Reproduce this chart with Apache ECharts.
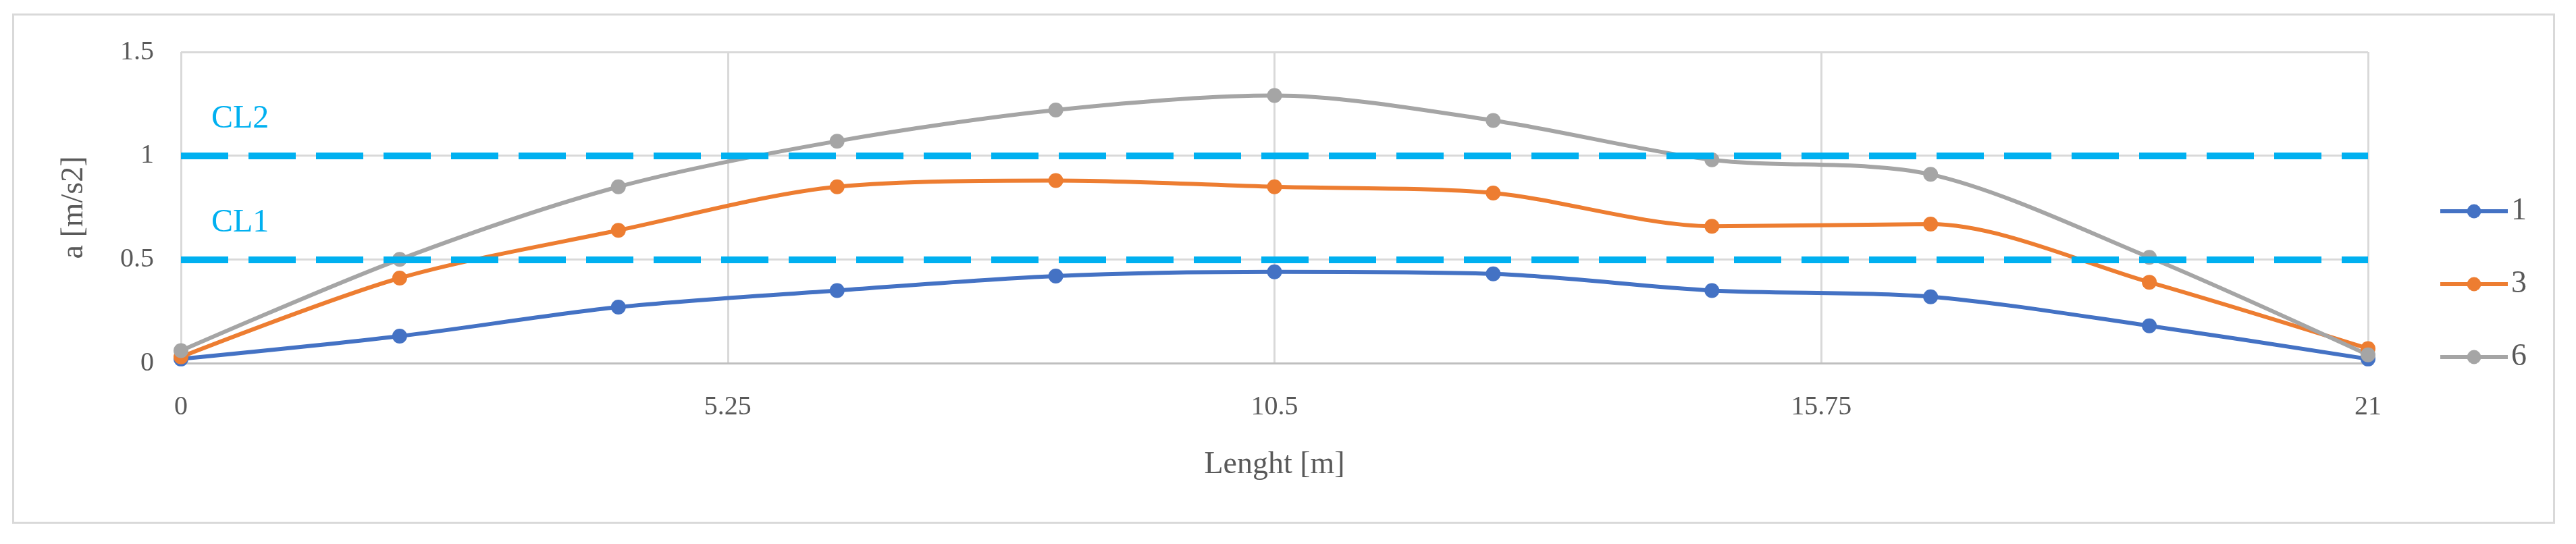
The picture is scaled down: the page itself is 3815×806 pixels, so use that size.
<!DOCTYPE html>
<html lang="en">
<head>
    <meta charset="UTF-8">
    <title>a [m/s2]</title>
    <script src="https://cdn.jsdelivr.net/npm/echarts@6/dist/echarts.min.js"></script>
    <style>
        body { margin: 0; background: #fff; }
        #frame { position: absolute; left: 18px; top: 20px; width: 3766px; height: 756px; border: 3px solid #d9d9d9; box-sizing: border-box; }
    </style>
</head>
<body>
    <div id="frame"></div>
    <div id="main" style="width: 3815px;height:806px;"></div>
    <script type="text/javascript">
        // data
        var xs = [0, 2.1, 4.2, 6.3, 8.4, 10.5, 12.6, 14.7, 16.8, 18.9, 21];
        var s1 = [0.02, 0.13, 0.27, 0.35, 0.42, 0.44, 0.43, 0.35, 0.32, 0.18, 0.02];
        var s3 = [0.03, 0.41, 0.64, 0.85, 0.88, 0.85, 0.82, 0.66, 0.67, 0.39, 0.07];
        var s6 = [0.06, 0.50, 0.85, 1.07, 1.22, 1.29, 1.17, 0.98, 0.91, 0.51, 0.04];
        var seriesNames = ['1', '3', '6'];
        var colors = ['#4472c4', '#ed7d31', '#a5a5a5'];
        var limits = [{ name: 'CL1', value: 0.5 }, { name: 'CL2', value: 1 }];

        var font = 'Liberation Serif';
        var myChart = echarts.init(document.getElementById('main'));

        function pairs(ys) {
            return xs.map(function (x, i) { return [x, ys[i]]; });
        }

        var series = [s1, s3, s6].map(function (ys, i) {
            return {
                name: seriesNames[i],
                type: 'line',
                smooth: 0.3,
                data: pairs(ys),
                symbol: 'circle',
                symbolSize: 22,
                z: 3,
                lineStyle: { width: 6, color: colors[i] },
                itemStyle: { color: colors[i] }
            };
        });

        // dashed limit lines
        series.push({
            name: 'limits',
            type: 'line',
            data: [],
            z: 2,
            markLine: {
                silent: true,
                symbol: 'none',
                lineStyle: { color: '#00b0f0', type: [70, 30], width: 10 },
                label: {
                    position: 'insideStartTop',
                    formatter: '{b}',
                    color: '#00b0f0',
                    fontFamily: font,
                    fontSize: 48,
                    distance: [45, 30]
                },
                data: limits.map(function (l) { return { name: l.name, yAxis: l.value }; })
            }
        });

        myChart.setOption({
            animation: false,
            textStyle: { fontFamily: font },
            grid: { left: 268, right: 308, top: 77, bottom: 268 },
            legend: {
                data: seriesNames,
                orient: 'vertical',
                left: 3606,
                top: 285,
                itemWidth: 100,
                itemHeight: 26,
                itemGap: 62,
                lineStyle: { width: 6 },
                textStyle: { fontSize: 46, color: '#595959', fontFamily: font }
            },
            xAxis: {
                type: 'value',
                min: 0,
                max: 21,
                interval: 5.25,
                name: 'Lenght [m]',
                nameLocation: 'middle',
                nameGap: 128,
                nameTextStyle: { fontSize: 46, color: '#595959' },
                axisLine: { lineStyle: { color: '#bfbfbf', width: 3 } },
                axisTick: { show: false },
                axisLabel: { fontSize: 40, color: '#595959', margin: 45 },
                splitLine: { show: true, lineStyle: { color: '#d9d9d9', width: 3 } }
            },
            yAxis: {
                type: 'value',
                min: 0,
                max: 1.5,
                interval: 0.5,
                name: 'a [m/s2]',
                nameLocation: 'middle',
                nameGap: 135,
                nameTextStyle: { fontSize: 46, color: '#595959' },
                axisLine: { show: false },
                axisTick: { show: false },
                axisLabel: { fontSize: 40, color: '#595959', margin: 40 },
                splitLine: { lineStyle: { color: '#d9d9d9', width: 3 } }
            },
            series: series
        });
    </script>
</body>
</html>
